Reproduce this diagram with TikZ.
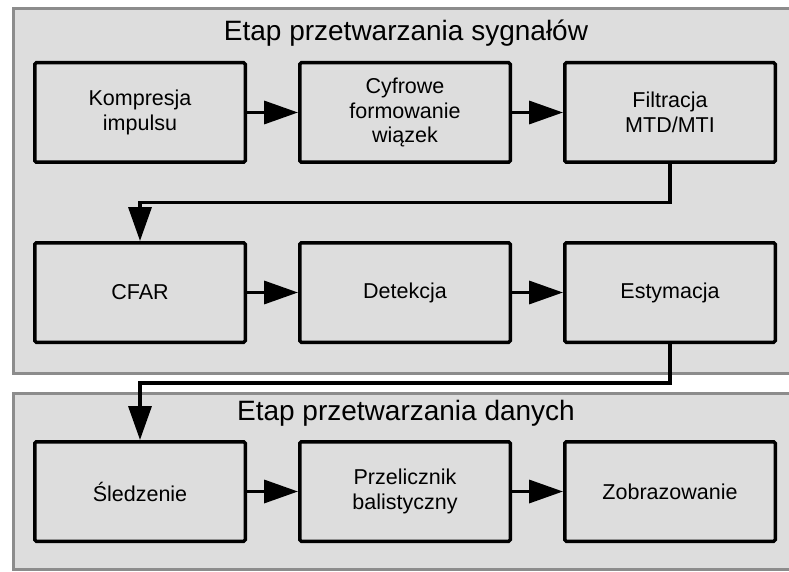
\documentclass[tikz,border=0pt]{standalone}
\usepackage{fontspec}
\setmainfont{Liberation Sans}
\usetikzlibrary{arrows.meta,positioning}

\definecolor{panelfill}{HTML}{DDDDDD}
\definecolor{panelline}{HTML}{8C8C8C}

\tikzset{
	panel/.style={draw=panelline, line width=3pt, fill=panelfill},
	blok/.style={draw, line width=3.5pt, rounded corners=1.5pt, minimum width=210.5pt,
		minimum height=99.5pt, align=center, inner sep=0pt, font=\fontsize{21.5}{24.5}\selectfont},
	strz/.style={line width=3.5pt, -{Triangle[length=34pt,width=23pt]}},
	tytul/.style={inner sep=0pt, anchor=base, font=\fontsize{28}{32}\selectfont}
}

\begin{document}
\begin{tikzpicture}[x=1pt,y=-1pt,node distance=51pt]
	\clip (0,0) rectangle (789,572);
	% etapy
	\draw[panel] (13,8.5) rectangle (810,373.5);
	\draw[panel] (13,393.5) rectangle (810,569.5);
	\node[tytul] (syg) at (406,41) {Etap przetwarzania sygnałów};
	\node[tytul] (dan) at (406,420) {Etap przetwarzania danych};
	
	\node[blok] (komp) at (140,112.5) {Kompresja\\impulsu};
	\node[blok,right=of komp] (cyfr) {Cyfrowe\\formowanie\\wiązek};
	\node[blok,right=of cyfr] (filt) {Filtracja\\MTD/MTI};
	
	\node[blok] (cfar) at (140,292.5) {CFAR};
	\node[blok,right=of cfar] (det) {Detekcja};
	\node[blok,right=of det] (est) {Estymacja};
	
	\node[blok] (sled) at (140,491.5) {Śledzenie};
	\node[blok,right=of sled] (przel) {Przelicznik\\balistyczny};
	\node[blok,right=of przel] (zobr) {Zobrazowanie};
	
	\draw[strz] (komp) -- (cyfr);
	\draw[strz] (cyfr) -- (filt);
	\path (filt.south) -- (cfar.north) coordinate[pos=.5] (m1);
	\draw[strz] (filt.south) |- (m1) -| (cfar.north);
	\draw[strz] (cfar) -- (det);
	\draw[strz] (det) -- (est);
	\coordinate (m2) at (405,383);
	\draw[strz] (est.south) |- (m2) -| (sled.north);
	\draw[strz] (sled) -- (przel);
	\draw[strz] (przel) -- (zobr);
\end{tikzpicture}
\end{document}
